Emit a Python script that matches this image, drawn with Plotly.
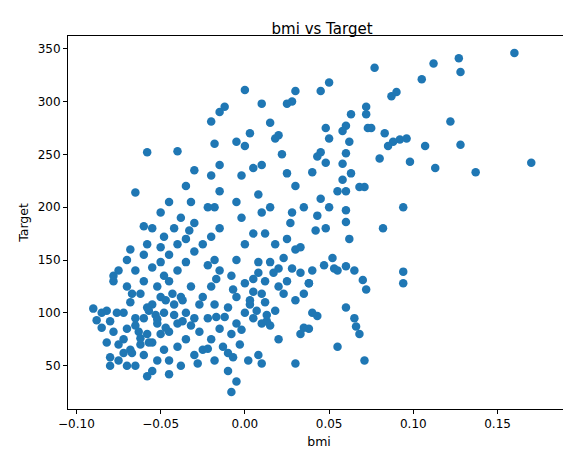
import plotly.graph_objects as go

title = 'bmi vs Target'
x_label = 'bmi'
y_label = 'Target'

bmi = [0.16, 0.17, 0.137, 0.127, 0.128, 0.112, 0.105, 0.113, 0.122, 0.128, 0.107, 0.098, 0.092, 0.088, 0.087, 0.09, 0.096, 0.094, 0.094, 0.094,
       0.077, 0.072, 0.072, 0.073, 0.075, 0.071, 0.068, 0.07, 0.072, 0.071, 0.082, 0.083, 0.085, 0.08,
       0.063, 0.062, 0.06, 0.058, 0.06, 0.058, 0.06, 0.055, 0.06, 0.06, 0.055, 0.06, 0.065, 0.062, 0.065, 0.066, 0.068, 0.06, 0.055,
       0.05, 0.045, 0.048, 0.05, 0.045, 0.04, 0.045, 0.05, 0.048, 0.042, 0.047, 0.04, 0.04, 0.043, 0.038, 0.035, 0.033, 0.03,
       0.028, 0.03, 0.025, 0.02, 0.018, 0.015, 0.022, 0.025, 0.03, 0.035, 0.028, 0.025, 0.03, 0.02, 0.025, 0.035, 0.03, 0.02, 0.012,
       0.01, 0.01, 0.005, 0.008, 0.015, 0.01, 0.012, 0.005, 0.018, 0.015, 0.008, 0.005, 0.012, 0.0, 0.005, 0.01, 0.0, 0.005, 0.01, 0.015, 0.02, 0.008, 0.01,
       0.0, 0.003, 0.0, -0.005, -0.002, -0.005, -0.002, 0.0, -0.005, -0.008, -0.005, -0.01, -0.005, -0.008, -0.003, -0.01, 0.002, -0.005, -0.008, -0.01,
       -0.015, -0.02, -0.012, -0.018, -0.015, -0.02, -0.015, -0.018, -0.022, -0.015, -0.02, -0.025, -0.018, -0.022, -0.015, -0.02, -0.025, -0.018, -0.022, -0.015, -0.02, -0.025, -0.018, -0.028,
       -0.03, -0.035, -0.032, -0.038, -0.03, -0.035, -0.04, -0.03, -0.035, -0.04, -0.045, -0.032, -0.038, -0.042, -0.035, -0.03, -0.04, -0.045, -0.035, -0.04, -0.03, -0.045, -0.038,
       -0.04, -0.045, -0.05, -0.042, -0.048, -0.05, -0.045, -0.05, -0.048, -0.052, -0.05, -0.055, -0.048, -0.052, -0.05, -0.055, -0.048, -0.052, -0.045, -0.055,
       -0.058, -0.06, -0.055, -0.058, -0.06, -0.055, -0.06, -0.062, -0.058, -0.06, -0.065, -0.058, -0.062, -0.06, -0.065, -0.058,
       -0.065, -0.068, -0.07, -0.065, -0.07, -0.068, -0.072, -0.065, -0.07, -0.072, -0.068, -0.075, -0.07, -0.075, -0.078, -0.076, -0.08, -0.078, -0.075, -0.08,
       -0.078, -0.082, -0.085, -0.088, -0.09, -0.085, -0.082, -0.08,
       0.052, 0.038, 0.027, 0.017, 0.007, -0.013, -0.027, -0.037, -0.047, -0.057, -0.067, 0.043, 0.033, 0.023, 0.013, 0.003, -0.007, -0.017, -0.033, -0.043, -0.053, -0.063,
       -0.072, -0.062, -0.052, -0.042, -0.032, -0.022, -0.012, -0.002, 0.008, 0.018, 0.028, 0.038, 0.048, 0.058,
       -0.067, -0.057, -0.047, -0.037, -0.027, -0.017, -0.007, 0.003, 0.013, 0.023, 0.033, 0.043, 0.053, 0.063]
target = [346, 242, 233, 341, 328, 336, 321, 237, 281, 259, 258, 243, 264, 262, 305, 309, 265, 200, 139, 128,
          332, 295, 288, 275, 275, 219, 219, 131, 122, 55, 180, 270, 258, 246,
          288, 262, 277, 272, 251, 241, 215, 215, 197, 186, 140, 144, 140, 170, 95, 87, 80, 105, 68,
          318, 310, 275, 265, 252, 233, 208, 200, 180, 178, 145, 140, 100, 97, 85, 86, 80, 52,
          300, 310, 298, 268, 265, 280, 250, 232, 220, 200, 195, 170, 160, 142, 130, 118, 112, 125, 110,
          298, 240, 237, 212, 200, 195, 175, 175, 165, 148, 148, 132, 130, 128, 120, 118, 100, 95, 90, 88, 75, 60, 52,
          311, 270, 258, 262, 230, 205, 190, 165, 150, 135, 115, 105, 90, 80, 70, 62, 55, 35, 25, 45,
          290, 281, 295, 260, 240, 230, 215, 200, 200, 180, 172, 165, 150, 145, 140, 125, 115, 108, 95, 85, 75, 65, 55, 52,
          235, 220, 205, 190, 185, 170, 165, 158, 148, 140, 130, 125, 115, 108, 100, 95, 90, 82, 75, 68, 60, 55, 50,
          253, 205, 195, 180, 172, 162, 155, 148, 135, 125, 115, 108, 100, 90, 80, 72, 65, 55, 42, 45,
          252, 182, 180, 165, 155, 143, 130, 118, 105, 95, 88, 80, 70, 60, 50, 40,
          214, 160, 150, 140, 125, 110, 100, 95, 85, 75, 65, 55, 50, 140, 130, 100, 92, 82, 70, 50,
          135, 102, 100, 93, 104, 86, 72, 58,
          152, 128, 185, 138, 102, 68, 108, 92, 112, 72, 62, 248, 162, 118, 92, 112, 58, 132, 178, 118, 98, 82,
          62, 76, 94, 98, 88, 66, 96, 84, 138, 102, 142, 128, 242, 226,
          118, 102, 86, 112, 82, 96, 122, 108, 98, 152, 138, 192, 142, 232]

fig = go.Figure()
fig.add_trace(go.Scatter(x=bmi, y=target, mode='markers',
                         marker=dict(color='#1f77b4', size=8.5, line_width=0)))

axis_style = dict(showline=True, mirror=True, linecolor='black', linewidth=1,
                  ticks='outside', ticklen=4, tickcolor='black', showgrid=False,
                  zeroline=False, tickfont=dict(size=12, color='black'))

fig.update_layout(
    width=571, height=455,
    title=dict(text=title, x=0.55, xanchor='center', y=0.965, font=dict(size=15, color='black')),
    xaxis=dict(title=dict(text=x_label, font=dict(size=12.5, color='black'), standoff=6),
               range=[-0.105, 0.193], tickvals=[-0.10, -0.05, 0.0, 0.05, 0.10, 0.15],
               tickformat='.2f', **axis_style),
    yaxis=dict(title=dict(text=y_label, font=dict(size=12.5, color='black'), standoff=6),
               range=[9, 362], tickvals=[50, 100, 150, 200, 250, 300, 350], **axis_style),
    font=dict(family='DejaVu Sans'),
    margin=dict(l=60, r=9, t=28, b=54),
    plot_bgcolor='white', paper_bgcolor='white',
    showlegend=False,
)

fig.write_html('out.html')
